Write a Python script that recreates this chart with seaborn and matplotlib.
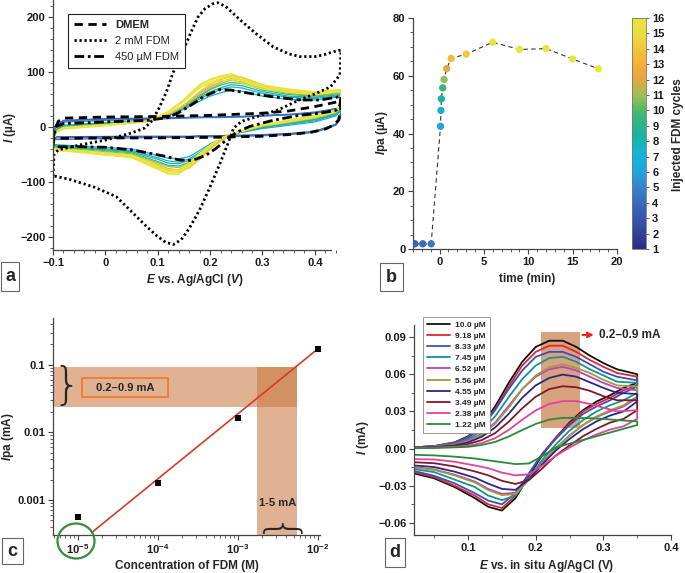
"""
Four-panel figure: CV of FDM in DMEM (a), anodic peak current over time (b),
log-log calibration of Ipa (c) and CVs at low FDM concentration (d).
"""

import matplotlib
matplotlib.use("Agg")
import matplotlib.pyplot as plt
import seaborn as sns
from matplotlib.cm import ScalarMappable
from matplotlib.colors import LinearSegmentedColormap, Normalize
from matplotlib.patches import Ellipse, Rectangle
from matplotlib.ticker import LogLocator, MultipleLocator, NullFormatter


# ---------------------------------------------------------------------------
# data
# ---------------------------------------------------------------------------

# (a) CV loops, E in V, I in uA
A_DMEM_E = [-0.100, -0.097, -0.090, -0.080, 0.000, 0.100, 0.200, 0.300, 0.350, 0.400, 0.430, 0.450,
            0.449, 0.445, 0.435, 0.420, 0.390, 0.350, 0.300, 0.200, 0.100, 0.000, -0.100]
A_DMEM_I = [-25, -5, 10, 16, 18, 19, 21, 25, 29, 37, 43, 47,
            28, 12, 3, -4, -10, -14, -17, -19, -20, -20, -21]

A_FDM2_E = [-0.100, -0.098, -0.090, -0.050, 0.000, 0.050, 0.075, 0.090, 0.104, 0.117, 0.129, 0.142,
            0.155, 0.167, 0.177, 0.190, 0.205, 0.215, 0.230, 0.257, 0.290, 0.320, 0.350, 0.371,
            0.400, 0.416, 0.440, 0.450,
            0.448, 0.430, 0.400, 0.370, 0.330, 0.290, 0.260, 0.245, 0.235, 0.220, 0.200, 0.180,
            0.160, 0.145, 0.130, 0.115, 0.098, 0.075, 0.053, 0.021, -0.020, -0.043, -0.070, -0.100]
A_FDM2_I = [-89, -50, -42, -33, -24, -11, -2, 12, 37, 65, 98, 126,
            153, 180, 200, 215, 224, 226, 219, 195, 168, 146, 133, 128,
            128, 131, 138, 140,
            95, 73, 60, 49, 31, 19, 10, -2, -28, -64, -109, -151,
            -185, -205, -214, -210, -198, -178, -157, -127, -110, -103, -95, -89]

A_FDM450_E = [-0.100, -0.095, -0.080, 0.000, 0.080, 0.120, 0.140, 0.161, 0.187, 0.219, 0.240, 0.257,
              0.290, 0.320, 0.371, 0.410, 0.441, 0.450,
              0.448, 0.440, 0.410, 0.371, 0.320, 0.276, 0.250, 0.231, 0.210, 0.193, 0.175, 0.161,
              0.140, 0.117, 0.080, 0.053, 0.000, -0.050, -0.100]
A_FDM450_I = [-36, 0, 6, 9, 12, 17, 26, 38, 55, 68, 67, 64,
              59, 55, 49, 49, 54, 56,
              40, 30, 25, 21, 12, 1, -10, -24, -40, -51, -58, -61,
              -60, -54, -47, -42, -37, -36, -36]

# (a) the 16 injection cycles: forward and reverse sweeps on shared E grids
A_E_UP = [-0.100, -0.095, -0.080, 0.000, 0.080, 0.120, 0.150, 0.180, 0.200, 0.220, 0.240, 0.260,
          0.280, 0.300, 0.350, 0.400, 0.450]
A_E_DOWN = [0.450, 0.448, 0.440, 0.400, 0.350, 0.300, 0.260, 0.240, 0.220, 0.200, 0.180, 0.160,
            0.140, 0.120, 0.100, 0.050, -0.100]
A_CYCLE_UP = [
    [-20, 2, 12, 15, 16, 17, 17, 18, 18, 18, 19, 19, 20, 21, 23, 27, 35],
    [-22, 1, 11, 14, 15, 16, 17, 17, 18, 18, 18, 19, 19, 20, 22, 26, 33],
    [-25, 0, 9, 12, 14, 15, 16, 17, 17, 17, 18, 18, 19, 20, 22, 25, 32],
    [-33, -5, 3, 8, 12, 21, 32, 47, 56, 62, 67, 65, 61, 56, 50, 49, 55],
    [-35, -6, 2, 7, 12, 21, 34, 51, 61, 68, 73, 71, 66, 61, 54, 52, 57],
    [-36, -7, 1, 6, 12, 21, 35, 54, 64, 71, 77, 75, 70, 64, 56, 54, 59],
    [-38, -8, 0, 5, 11, 22, 36, 56, 68, 76, 81, 79, 74, 67, 59, 56, 61],
    [-39, -8, -1, 5, 11, 22, 37, 58, 70, 79, 85, 82, 76, 70, 61, 57, 62],
    [-40, -9, -1, 4, 11, 22, 38, 61, 73, 82, 88, 86, 80, 73, 63, 59, 64],
    [-41, -9, -2, 4, 10, 23, 40, 63, 76, 86, 92, 90, 83, 76, 65, 61, 65],
    [-41, -10, -2, 3, 10, 23, 40, 64, 78, 87, 94, 91, 84, 77, 66, 62, 66],
    [-42, -10, -3, 3, 10, 27, 49, 77, 87, 93, 97, 90, 82, 76, 69, 64, 68],
    [-42, -10, -3, 3, 10, 27, 49, 76, 85, 91, 94, 87, 80, 74, 68, 63, 67],
    [-42, -10, -4, 2, 10, 28, 50, 77, 86, 91, 93, 86, 79, 73, 67, 63, 67],
    [-41, -9, -2, 4, 10, 27, 48, 73, 82, 88, 90, 84, 77, 72, 65, 61, 65],
    [-40, -9, -1, 4, 11, 26, 46, 71, 79, 84, 86, 80, 74, 69, 63, 59, 64],
]
A_CYCLE_DOWN = [
    [35, 15, 5, -8, -12, -14, -15, -15, -16, -16, -16, -17, -17, -17, -17, -17, -18],
    [33, 14, 4, -9, -13, -15, -16, -16, -17, -17, -17, -18, -18, -18, -18, -18, -20],
    [32, 13, 3, -10, -14, -16, -17, -17, -18, -18, -18, -19, -19, -19, -19, -20, -23],
    [55, 28, 20, 9, 3, -3, -10, -15, -22, -31, -43, -54, -58, -57, -52, -40, -32],
    [57, 30, 22, 11, 5, -2, -9, -15, -23, -33, -47, -58, -64, -62, -56, -43, -34],
    [59, 31, 23, 13, 6, -1, -9, -15, -23, -34, -49, -61, -67, -66, -59, -45, -35],
    [61, 33, 25, 14, 7, 0, -9, -15, -24, -36, -52, -65, -71, -70, -63, -47, -36],
    [62, 34, 26, 16, 8, 1, -8, -15, -24, -37, -54, -67, -74, -72, -65, -49, -37],
    [64, 35, 27, 17, 9, 2, -8, -15, -25, -38, -56, -70, -78, -76, -68, -51, -39],
    [65, 36, 29, 18, 11, 3, -8, -15, -25, -40, -58, -73, -81, -79, -71, -53, -40],
    [66, 36, 29, 19, 11, 3, -7, -15, -26, -40, -59, -75, -82, -80, -72, -53, -40],
    [68, 37, 31, 21, 12, 4, -7, -13, -22, -37, -54, -73, -86, -86, -77, -56, -41],
    [67, 37, 30, 20, 12, 4, -7, -13, -22, -36, -53, -71, -84, -84, -75, -55, -41],
    [67, 37, 30, 20, 12, 4, -7, -13, -21, -35, -52, -70, -83, -84, -75, -55, -42],
    [65, 36, 29, 18, 11, 3, -8, -13, -21, -35, -50, -68, -81, -81, -73, -53, -40],
    [64, 35, 27, 17, 9, 2, -8, -13, -21, -33, -48, -65, -78, -78, -70, -51, -39],
]

# (b) anodic peak current per injection cycle
B_TIME = [-2.8, -1.9, -0.95, 0.1, 0.15, 0.2, 0.35, 0.5, 0.8, 1.3, 3, 6, 9, 12, 15, 17.9]
B_IPA = [1.8, 1.8, 1.8, 42.5, 48, 52, 55.8, 58.7, 62.5, 66, 67.5, 71.6, 69.1, 69.4, 65.8, 62.4]
B_LEVEL = [3.5, 4, 4.5, 6.5, 7.5, 8.3, 9.5, 10.8, 12, 13.5, 14, 15.5, 16, 16, 16, 16]
CBAR_TICKS = list(range(1, 17))

# (c) calibration
C_CONC = [1e-5, 1e-4, 1e-3, 1e-2]
C_IPA = [5.6e-4, 1.77e-3, 0.0162, 0.171]
C_FIT_CONC = [1.55e-5, 1e-2]
C_FIT_IPA = [3.4e-4, 0.171]
C_BAND_IPA = [0.024, 0.092]
C_BAND_CONC = [1.74e-3, 5.5e-3]

# (d) CVs at low concentration, I in mA
D_LABELS = ["10.0 \u00b5M", "9.18 \u00b5M", "8.33 \u00b5M", "7.45 \u00b5M", "6.52 \u00b5M",
            "5.56 \u00b5M", "4.55 \u00b5M", "3.49 \u00b5M", "2.38 \u00b5M", "1.22 \u00b5M"]
D_E_FWD = [0.02, 0.05, 0.08, 0.10, 0.12, 0.14, 0.16, 0.18, 0.20, 0.22, 0.24, 0.26, 0.28, 0.30, 0.32, 0.35]
D_E_REV = [0.35, 0.33, 0.31, 0.29, 0.27, 0.25, 0.23, 0.21, 0.19, 0.17, 0.15, 0.13, 0.11, 0.08, 0.05, 0.02]
D_FWD_I = [
    [.001, .002, .005, .010, .019, .034, .053, .070, .082, .087, .087, .082, .075, .069, .064, .060],
    [.001, .002, .005, .0095, .018, .032, .050, .067, .078, .083, .083, .078, .0715, .066, .061, .058],
    [.001, .002, .0045, .009, .017, .031, .048, .063, .074, .078, .078, .074, .068, .062, .058, .055],
    [.001, .0017, .004, .0075, .0145, .026, .0415, .056, .067, .073, .074, .070, .064, .059, .054, .053],
    [.0008, .0015, .0033, .0064, .012, .021, .0345, .048, .058, .064, .066, .063, .058, .053, .049, .047],
    [.0008, .0015, .0031, .0058, .011, .020, .033, .048, .059, .0655, .068, .065, .061, .0555, .051, .050],
    [.0007, .0013, .0026, .005, .0095, .017, .028, .041, .051, .057, .0597, .058, .0535, .049, .045, .044],
    [.0006, .001, .002, .0037, .0068, .0125, .0216, .0325, .0419, .048, .0503, .0495, .0466, .0423, .039, .039],
    [.0004, .0008, .0015, .0022, .0044, .0084, .015, .0233, .0308, .036, .0383, .0383, .036, .033, .030, .031],
    [.0003, .0005, .001, .0014, .0029, .0054, .0097, .015, .0199, .0234, .0248, .0248, .0245, .024, .023, .022],
]
D_REV_I = [
    [.053, .049, .043, .038, .031, .021, .009, -.005, -.022, -.040, -.050, -.047, -.040, -.031, -.024, -.020],
    [.051, .047, .041, .036, .030, .020, .009, -.004, -.020, -.038, -.048, -.045, -.038, -.030, -.023, -.019],
    [.050, .045, .039, .034, .028, .019, .008, -.004, -.020, -.036, -.045, -.042, -.036, -.028, -.022, -.018],
    [.045, .039, .035, .030, .023, .0145, .0035, -.009, -.0235, -.038, -.0415, -.038, -.031, -.025, -.019, -.0165],
    [.041, .034, .030, .0255, .019, .0104, .0005, -.011, -.0246, -.0357, -.0365, -.0326, -.0266, -.021, -.0168, -.015],
    [.042, .035, .031, .026, .019, .0106, .0005, -.0114, -.025, -.0367, -.0375, -.0335, -.0273, -.0216, -.0172, -.0154],
    [.038, .030, .0267, .022, .0157, .0078, -.0014, -.0125, -.0248, -.0333, -.0325, -.0283, -.0235, -.0186, -.0149, -.0136],
    [.031, .024, .021, .016, .010, .0025, -.0054, -.0158, -.0254, -.0285, -.026, -.0216, -.0184, -.0144, -.0118, -.011],
    [.024, .018, .0154, .0114, .0066, .0009, -.0057, -.0136, -.0207, -.0216, -.0194, -.0158, -.0136, -.0106, -.0088, -.0085],
    [.019, .016, .013, .010, .007, .004, .001, -.006, -.012, -.0125, -.011, -.0095, -.008, -.0065, -.0055, -.005],
]
D_BOX_E = [0.208, 0.265]
D_BOX_I = [0.0164, 0.094]

# ---------------------------------------------------------------------------
# styling
# ---------------------------------------------------------------------------

W, H = 685, 573   # figure size in px, layout below is given in px

CMAP_COLORS = ["#2b2c82", "#33479c", "#3860b3", "#3a7cc6", "#1fa6dd", "#14b4d6", "#1bb39a",
               "#3fb672", "#9cc152", "#f0a43c", "#f4b93a", "#eed83a", "#e6e63e"]
D_COLORS = ["#111111", "#e3262b", "#3a4fc0", "#17928f", "#c23fc0",
            "#9c9c3c", "#27288a", "#7a1a2c", "#e0449c", "#2a8a3a"]

sns.set_style("ticks")
plt.rcParams.update({
    "font.family": ["Liberation Sans", "DejaVu Sans"],
    "font.weight": "bold",
    "axes.labelweight": "bold",
    "mathtext.fontset": "custom",
    "mathtext.it": "Liberation Sans:italic:bold",
    "mathtext.rm": "Liberation Sans",
    "mathtext.bf": "Liberation Sans:bold",
    "axes.linewidth": 0.9,
    "axes.edgecolor": "#444444",
    "xtick.color": "#444444",
    "ytick.color": "#444444",
    "xtick.labelcolor": "#1a1a1a",
    "ytick.labelcolor": "#1a1a1a",
})

cmap = LinearSegmentedColormap.from_list("fdm", CMAP_COLORS)
norm = Normalize(1, 16)


def px_box(x0, y0, x1, y1):
    """pixel box (top-left origin) -> figure fraction [l, b, w, h]"""
    return [x0 / W, 1 - y1 / H, (x1 - x0) / W, (y1 - y0) / H]


def style_ticks(ax):
    ax.tick_params(which="major", length=3.5, width=0.8, labelsize=8, pad=2)
    ax.tick_params(which="minor", length=2, width=0.6)
    sns.despine(ax=ax)


def panel_tag(fig, x0, y0, x1, y1, letter):
    fig.add_artist(Rectangle((x0 / W, 1 - y1 / H), (x1 - x0) / W, (y1 - y0) / H,
                             transform=fig.transFigure, fill=False, ec="#666666", lw=0.8))
    fig.text((x0 + x1) / 2 / W, 1 - (y0 + y1) / 2 / H, letter,
             ha="center", va="center", fontsize=13, fontweight="bold")


def fig_label(fig, x, y, text, rot=0, size=8.5):
    fig.text(x / W, 1 - y / H, text, ha="center", va="center", rotation=rot, fontsize=size)


fig = plt.figure(figsize=(W / 100, H / 100), dpi=100)

# ---------------------------------------------------------------------------
# (a)
# ---------------------------------------------------------------------------
ax_a = fig.add_axes(px_box(53, 0, 341, 250))

for up, down, lev in zip(A_CYCLE_UP, A_CYCLE_DOWN, B_LEVEL):
    sns.lineplot(x=A_E_UP + A_E_DOWN, y=up + down, sort=False, estimator=None,
                 color=cmap(norm(lev)), lw=0.9, ax=ax_a)

sns.lineplot(x=A_DMEM_E, y=A_DMEM_I, sort=False, estimator=None, color="black", lw=2,
             linestyle=(0, (3, 2)), label="DMEM", ax=ax_a)
sns.lineplot(x=A_FDM2_E, y=A_FDM2_I, sort=False, estimator=None, color="black", lw=2,
             linestyle=(0, (0.8, 1.0)), label="2 mM FDM", ax=ax_a)
sns.lineplot(x=A_FDM450_E, y=A_FDM450_I, sort=False, estimator=None, color="black", lw=2,
             linestyle=(0, (3.5, 1.3, 1, 1.3)), label="450 \u00b5M FDM", ax=ax_a)

ax_a.set_xlim(-0.1, 0.45)
ax_a.set_ylim(-224, 231)
ax_a.set_xticks([-0.1, 0, 0.1, 0.2, 0.3, 0.4],
                labels=["\u22120.1", "0", "0.1", "0.2", "0.3", "0.4"])
ax_a.set_yticks([-200, -100, 0, 100, 200],
                labels=["\u2212200", "\u2212100", "0", "100", "200"])
ax_a.xaxis.set_minor_locator(MultipleLocator(0.02))
ax_a.yaxis.set_minor_locator(MultipleLocator(20))
ax_a.set_xlabel("")
ax_a.set_ylabel("")
style_ticks(ax_a)
ax_a.spines["bottom"].set_bounds(-0.1, 0.43)

handles, labels = ax_a.get_legend_handles_labels()
leg = ax_a.legend(handles, labels, loc="upper left", bbox_to_anchor=(62 / W, 1 - 8 / H),
                  bbox_transform=fig.transFigure, fontsize=8, handlelength=2.9,
                  borderpad=0.55, labelspacing=0.55, fancybox=False, framealpha=1,
                  edgecolor="#222222")
leg.get_frame().set_linewidth(0.8)
for i, t in enumerate(leg.get_texts()):
    t.set_fontweight("bold" if i == 0 else "normal")

fig_label(fig, 195, 280, "$E$ vs. Ag/AgCl ($V$)")
fig_label(fig, 10, 127, "$I$ (\u00b5A)", rot=90)
panel_tag(fig, 1, 262, 19, 291, "a")

# ---------------------------------------------------------------------------
# (b)
# ---------------------------------------------------------------------------
ax_b = fig.add_axes(px_box(413, 18, 617, 249))

sns.lineplot(x=B_TIME, y=B_IPA, sort=False, estimator=None, color="#333333", lw=0.8,
             linestyle=(0, (4, 3)), ax=ax_b)
sns.scatterplot(x=B_TIME, y=B_IPA, hue=B_LEVEL, palette=cmap, hue_norm=norm, s=28,
                linewidth=0, legend=False, zorder=3, ax=ax_b)

ax_b.set_xlim(-3, 20)
ax_b.set_ylim(0, 80)
ax_b.set_xticks([0, 5, 10, 15, 20])
ax_b.set_yticks([0, 20, 40, 60, 80])
ax_b.xaxis.set_minor_locator(MultipleLocator(1))
ax_b.yaxis.set_minor_locator(MultipleLocator(5))
ax_b.set_xlabel("")
ax_b.set_ylabel("")
style_ticks(ax_b)

cax = fig.add_axes(px_box(632, 18, 646, 249))
cb = fig.colorbar(ScalarMappable(norm=norm, cmap=cmap), cax=cax, ticks=CBAR_TICKS)
cb.outline.set_linewidth(0.6)
cb.outline.set_edgecolor("#777777")
cax.tick_params(labelsize=8, length=2.5, width=0.6, pad=2)

fig_label(fig, 527, 279, "time (min)")
fig_label(fig, 382, 133, "$I$pa (\u00b5A)", rot=90)
fig_label(fig, 678, 135, "Injected FDM cycles", rot=90)
panel_tag(fig, 380, 263, 403, 291, "b")

# ---------------------------------------------------------------------------
# (c)
# ---------------------------------------------------------------------------
ax_c = fig.add_axes(px_box(53, 318, 320, 535))
ax_c.set_xscale("log")
ax_c.set_yscale("log")
c_xlim = (10 ** -5.31, 10 ** -1.97)
c_ylim = (10 ** -3.52, 10 ** -0.307)
ax_c.set_xlim(*c_xlim)
ax_c.set_ylim(*c_ylim)

band_kw = dict(fc="#ca773f", alpha=0.57, lw=0, zorder=1)
ax_c.add_patch(Rectangle((c_xlim[0], C_BAND_IPA[0]), C_BAND_CONC[1] - c_xlim[0],
                         C_BAND_IPA[1] - C_BAND_IPA[0], **band_kw))
ax_c.add_patch(Rectangle((C_BAND_CONC[0], c_ylim[0]), C_BAND_CONC[1] - C_BAND_CONC[0],
                         C_BAND_IPA[1] - c_ylim[0], **band_kw))

sns.lineplot(x=C_FIT_CONC, y=C_FIT_IPA, color="#d23b2b", lw=1.2, zorder=3, ax=ax_c)
sns.scatterplot(x=C_CONC, y=C_IPA, marker="s", s=14, color="black", linewidth=0,
                zorder=4, ax=ax_c)

ax_c.set_xticks(C_CONC, labels=[r"$10^{-5}$", r"$10^{-4}$", r"$10^{-3}$", r"$10^{-2}$"])
ax_c.set_yticks([0.001, 0.01, 0.1], labels=["0.001", "0.01", "0.1"])
ax_c.xaxis.set_minor_locator(LogLocator(base=10, subs=range(2, 10)))
ax_c.yaxis.set_minor_locator(LogLocator(base=10, subs=range(2, 10)))
ax_c.xaxis.set_minor_formatter(NullFormatter())
ax_c.yaxis.set_minor_formatter(NullFormatter())
ax_c.set_xlabel("")
ax_c.set_ylabel("")
style_ticks(ax_c)

# annotations: braces, boxed range, circled point
fig.text(67 / W, 1 - 387 / H, "}", ha="center", va="center", fontsize=32,
         family="DejaVu Sans", fontweight="light")
fig.add_artist(Rectangle((82 / W, 1 - 397 / H), 86 / W, 19 / H, transform=fig.transFigure,
                         fill=False, ec="#f07a2a", lw=1.3))
fig_label(fig, 125, 388, "0.2\u20130.9 mA", size=8)
fig.text(277 / W, 1 - 520 / H, "}", ha="center", va="center", fontsize=30, rotation=90,
         family="DejaVu Sans", fontweight="light")
fig_label(fig, 278, 503, "1-5 mA", size=8)
fig.add_artist(Ellipse((76 / W, 1 - 541 / H), 37 / W, 35 / H, transform=fig.transFigure,
                       fill=False, ec="#3a8c3a", lw=1.6))

fig_label(fig, 187, 566, "Concentration of FDM (M)")
fig_label(fig, 8, 437, "$I$pa (mA)", rot=90)
panel_tag(fig, 2, 538, 23, 564, "c")

# ---------------------------------------------------------------------------
# (d)
# ---------------------------------------------------------------------------
ax_d = fig.add_axes(px_box(414, 325, 671, 535))

ax_d.add_patch(Rectangle((D_BOX_E[0], D_BOX_I[0]), D_BOX_E[1] - D_BOX_E[0],
                         D_BOX_I[1] - D_BOX_I[0], fc="#d9a27f", lw=0, zorder=0.5))

for lab, col, fwd, rev in zip(D_LABELS, D_COLORS, D_FWD_I, D_REV_I):
    sns.lineplot(x=D_E_FWD + D_E_REV, y=fwd + rev, sort=False, estimator=None,
                 color=col, lw=1.3, label=lab, ax=ax_d)

ax_d.set_xlim(0.02, 0.4)
ax_d.set_ylim(-0.0697, 0.0997)
ax_d.set_xticks([0.1, 0.2, 0.3, 0.4])
ax_d.set_yticks([-0.06, -0.03, 0, 0.03, 0.06, 0.09],
                labels=["\u22120.06", "\u22120.03", "0.00", "0.03", "0.06", "0.09"])
ax_d.xaxis.set_minor_locator(MultipleLocator(0.05))
ax_d.yaxis.set_minor_locator(MultipleLocator(0.015))
ax_d.set_xlabel("")
ax_d.set_ylabel("")
style_ticks(ax_d)

ax_d.annotate("", xy=(0.29, 0.0917), xytext=(0.265, 0.0917), annotation_clip=False,
              arrowprops=dict(arrowstyle="-|>", color="#e8281e", lw=1.5, mutation_scale=8))
ax_d.text(0.294, 0.0917, "0.2\u20130.9 mA", ha="left", va="center", fontsize=8.5,
          clip_on=False)

leg_d = ax_d.legend(loc="upper left", bbox_to_anchor=(419 / W, 1 - 313 / H),
                    bbox_transform=fig.transFigure, fontsize=6, handlelength=2.8,
                    handletextpad=0.6, borderpad=0.45, labelspacing=0.4,
                    fancybox=False, framealpha=1, edgecolor="#888888")
leg_d.get_frame().set_linewidth(0.6)

fig_label(fig, 547, 566, "$E$ vs. in situ Ag/AgCl (V)")
fig_label(fig, 363, 438, "$I$ (mA)", rot=90)
panel_tag(fig, 385, 538, 405, 567, "d")

fig.savefig("out.png", dpi=100)
